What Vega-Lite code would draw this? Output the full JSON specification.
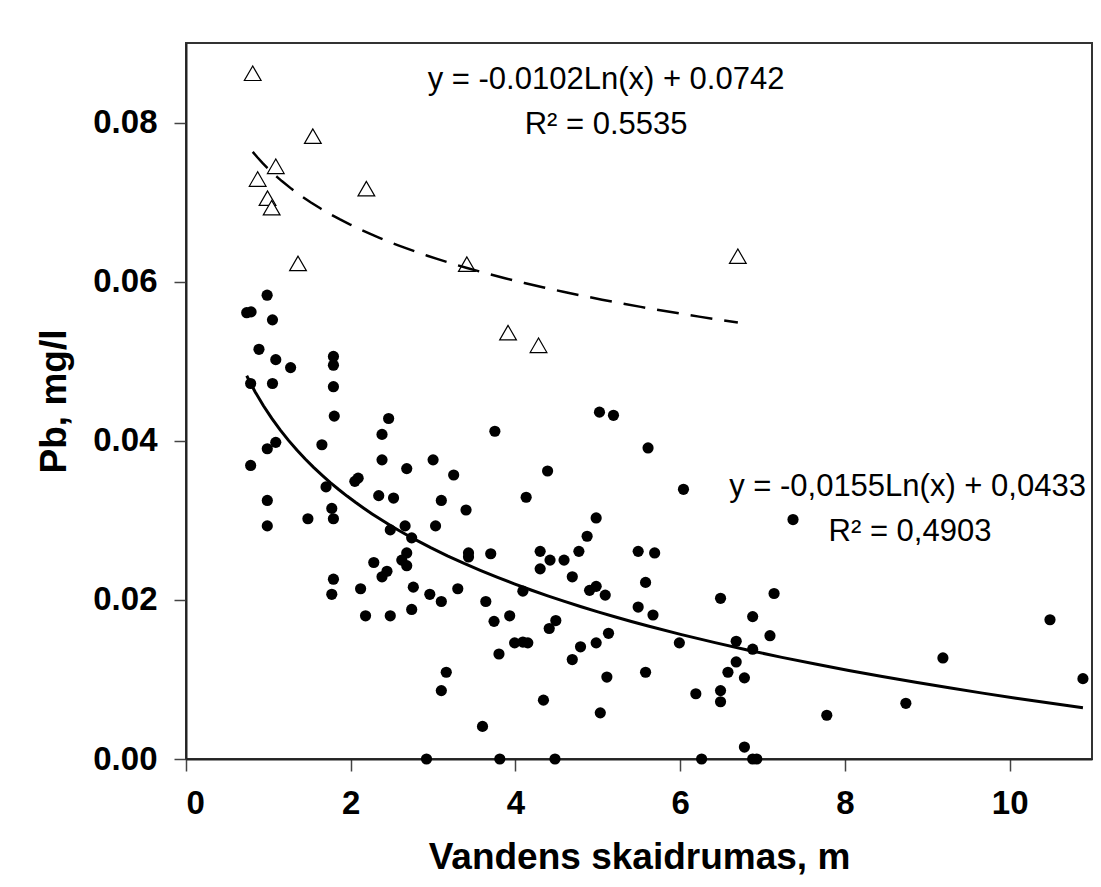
{
  "$schema": "https://vega.github.io/schema/vega-lite/v6.json",
  "autosize": "none",
  "width": 906,
  "height": 716,
  "padding": {"left": 186, "top": 43, "right": 9, "bottom": 128},
  "background": "white",
  "config": {
    "font": "Liberation Sans",
    "view": {"stroke": "#333333", "strokeWidth": 2},
    "axis": {
      "grid": false,
      "labelFont": "Liberation Sans",
      "labelFontWeight": "bold",
      "labelFontSize": 33,
      "labelColor": "black",
      "titleFont": "Liberation Sans",
      "titleFontWeight": "bold",
      "titleFontSize": 37,
      "titleColor": "black",
      "domainColor": "#222222",
      "domainWidth": 2,
      "tickColor": "#444444",
      "tickWidth": 1.5,
      "tickSize": 12
    }
  },
  "datasets": {
    "obs": [
      {"x": 0.81, "y": 0.0862, "set": "upper"},
      {"x": 1.54, "y": 0.0783, "set": "upper"},
      {"x": 1.09, "y": 0.0745, "set": "upper"},
      {"x": 0.87, "y": 0.0729, "set": "upper"},
      {"x": 0.99, "y": 0.0705, "set": "upper"},
      {"x": 1.04, "y": 0.0693, "set": "upper"},
      {"x": 2.19, "y": 0.0717, "set": "upper"},
      {"x": 1.36, "y": 0.0623, "set": "upper"},
      {"x": 3.41, "y": 0.0622, "set": "upper"},
      {"x": 3.91, "y": 0.0536, "set": "upper"},
      {"x": 4.28, "y": 0.0520, "set": "upper"},
      {"x": 6.70, "y": 0.0632, "set": "upper"},
      {"x": 0.985, "y": 0.0583, "set": "lower"},
      {"x": 0.737, "y": 0.0561, "set": "lower"},
      {"x": 0.79, "y": 0.0562, "set": "lower"},
      {"x": 1.05, "y": 0.0552, "set": "lower"},
      {"x": 0.886, "y": 0.0515, "set": "lower"},
      {"x": 1.09, "y": 0.0502, "set": "lower"},
      {"x": 1.27, "y": 0.0492, "set": "lower"},
      {"x": 1.79, "y": 0.0506, "set": "lower"},
      {"x": 1.79, "y": 0.0495, "set": "lower"},
      {"x": 1.79, "y": 0.0468, "set": "lower"},
      {"x": 0.785, "y": 0.0472, "set": "lower"},
      {"x": 1.05, "y": 0.0472, "set": "lower"},
      {"x": 1.80, "y": 0.0431, "set": "lower"},
      {"x": 2.46, "y": 0.0428, "set": "lower"},
      {"x": 2.38, "y": 0.0408, "set": "lower"},
      {"x": 1.09, "y": 0.0398, "set": "lower"},
      {"x": 0.987, "y": 0.0390, "set": "lower"},
      {"x": 1.65, "y": 0.0395, "set": "lower"},
      {"x": 0.785, "y": 0.0369, "set": "lower"},
      {"x": 2.38, "y": 0.0376, "set": "lower"},
      {"x": 2.68, "y": 0.0365, "set": "lower"},
      {"x": 3.00, "y": 0.0376, "set": "lower"},
      {"x": 3.25, "y": 0.0357, "set": "lower"},
      {"x": 2.05, "y": 0.0349, "set": "lower"},
      {"x": 2.09, "y": 0.0353, "set": "lower"},
      {"x": 1.70, "y": 0.0342, "set": "lower"},
      {"x": 2.34, "y": 0.0331, "set": "lower"},
      {"x": 2.52, "y": 0.0328, "set": "lower"},
      {"x": 3.10, "y": 0.0325, "set": "lower"},
      {"x": 3.40, "y": 0.0313, "set": "lower"},
      {"x": 0.987, "y": 0.0325, "set": "lower"},
      {"x": 1.48, "y": 0.0302, "set": "lower"},
      {"x": 1.77, "y": 0.0315, "set": "lower"},
      {"x": 1.79, "y": 0.0302, "set": "lower"},
      {"x": 0.987, "y": 0.0293, "set": "lower"},
      {"x": 2.48, "y": 0.0288, "set": "lower"},
      {"x": 2.66, "y": 0.0293, "set": "lower"},
      {"x": 3.03, "y": 0.0293, "set": "lower"},
      {"x": 2.74, "y": 0.0278, "set": "lower"},
      {"x": 2.68, "y": 0.0259, "set": "lower"},
      {"x": 2.62, "y": 0.0250, "set": "lower"},
      {"x": 2.68, "y": 0.0243, "set": "lower"},
      {"x": 2.28, "y": 0.0247, "set": "lower"},
      {"x": 2.44, "y": 0.0236, "set": "lower"},
      {"x": 2.38, "y": 0.0229, "set": "lower"},
      {"x": 3.43, "y": 0.0259, "set": "lower"},
      {"x": 3.43, "y": 0.0254, "set": "lower"},
      {"x": 3.70, "y": 0.0258, "set": "lower"},
      {"x": 4.09, "y": 0.0211, "set": "lower"},
      {"x": 1.79, "y": 0.0226, "set": "lower"},
      {"x": 1.77, "y": 0.0207, "set": "lower"},
      {"x": 2.12, "y": 0.0214, "set": "lower"},
      {"x": 2.76, "y": 0.0216, "set": "lower"},
      {"x": 2.96, "y": 0.0207, "set": "lower"},
      {"x": 3.10, "y": 0.0198, "set": "lower"},
      {"x": 3.30, "y": 0.0214, "set": "lower"},
      {"x": 3.64, "y": 0.0198, "set": "lower"},
      {"x": 2.18, "y": 0.0180, "set": "lower"},
      {"x": 2.48, "y": 0.0180, "set": "lower"},
      {"x": 2.74, "y": 0.0188, "set": "lower"},
      {"x": 3.74, "y": 0.0173, "set": "lower"},
      {"x": 3.93, "y": 0.0180, "set": "lower"},
      {"x": 3.99, "y": 0.0146, "set": "lower"},
      {"x": 4.09, "y": 0.0147, "set": "lower"},
      {"x": 4.15, "y": 0.0146, "set": "lower"},
      {"x": 3.80, "y": 0.0132, "set": "lower"},
      {"x": 3.16, "y": 0.0109, "set": "lower"},
      {"x": 3.10, "y": 0.0086, "set": "lower"},
      {"x": 3.60, "y": 0.0041, "set": "lower"},
      {"x": 2.92, "y": 0.0, "set": "lower"},
      {"x": 3.81, "y": 0.0, "set": "lower"},
      {"x": 5.02, "y": 0.0436, "set": "lower"},
      {"x": 5.19, "y": 0.0432, "set": "lower"},
      {"x": 3.75, "y": 0.0412, "set": "lower"},
      {"x": 5.61, "y": 0.0391, "set": "lower"},
      {"x": 4.39, "y": 0.0362, "set": "lower"},
      {"x": 6.04, "y": 0.0339, "set": "lower"},
      {"x": 4.13, "y": 0.0329, "set": "lower"},
      {"x": 4.98, "y": 0.0303, "set": "lower"},
      {"x": 4.87, "y": 0.0280, "set": "lower"},
      {"x": 4.77, "y": 0.0261, "set": "lower"},
      {"x": 4.30, "y": 0.0261, "set": "lower"},
      {"x": 4.42, "y": 0.0250, "set": "lower"},
      {"x": 4.59, "y": 0.0250, "set": "lower"},
      {"x": 4.30, "y": 0.0239, "set": "lower"},
      {"x": 5.49, "y": 0.0261, "set": "lower"},
      {"x": 5.69, "y": 0.0259, "set": "lower"},
      {"x": 5.58, "y": 0.0222, "set": "lower"},
      {"x": 4.69, "y": 0.0229, "set": "lower"},
      {"x": 4.90, "y": 0.0212, "set": "lower"},
      {"x": 4.98, "y": 0.0217, "set": "lower"},
      {"x": 5.09, "y": 0.0206, "set": "lower"},
      {"x": 4.49, "y": 0.0174, "set": "lower"},
      {"x": 4.41, "y": 0.0164, "set": "lower"},
      {"x": 5.49, "y": 0.0191, "set": "lower"},
      {"x": 5.67, "y": 0.0181, "set": "lower"},
      {"x": 5.13, "y": 0.0158, "set": "lower"},
      {"x": 6.49, "y": 0.0202, "set": "lower"},
      {"x": 7.14, "y": 0.0208, "set": "lower"},
      {"x": 6.88, "y": 0.0179, "set": "lower"},
      {"x": 7.37, "y": 0.0301, "set": "lower"},
      {"x": 4.79, "y": 0.0141, "set": "lower"},
      {"x": 4.98, "y": 0.0146, "set": "lower"},
      {"x": 4.69, "y": 0.0125, "set": "lower"},
      {"x": 5.11, "y": 0.0103, "set": "lower"},
      {"x": 5.58, "y": 0.0109, "set": "lower"},
      {"x": 5.99, "y": 0.0146, "set": "lower"},
      {"x": 4.34, "y": 0.0074, "set": "lower"},
      {"x": 5.03, "y": 0.0058, "set": "lower"},
      {"x": 4.48, "y": 0.0, "set": "lower"},
      {"x": 6.26, "y": 0.0, "set": "lower"},
      {"x": 6.78, "y": 0.0015, "set": "lower"},
      {"x": 6.88, "y": 0.0, "set": "lower"},
      {"x": 6.93, "y": 0.0, "set": "lower"},
      {"x": 7.09, "y": 0.0155, "set": "lower"},
      {"x": 6.68, "y": 0.0148, "set": "lower"},
      {"x": 6.88, "y": 0.0138, "set": "lower"},
      {"x": 6.68, "y": 0.0122, "set": "lower"},
      {"x": 6.58, "y": 0.0109, "set": "lower"},
      {"x": 6.78, "y": 0.0102, "set": "lower"},
      {"x": 6.19, "y": 0.0082, "set": "lower"},
      {"x": 6.49, "y": 0.0086, "set": "lower"},
      {"x": 6.49, "y": 0.0072, "set": "lower"},
      {"x": 7.78, "y": 0.0055, "set": "lower"},
      {"x": 8.74, "y": 0.0070, "set": "lower"},
      {"x": 9.19, "y": 0.0127, "set": "lower"},
      {"x": 10.49, "y": 0.0175, "set": "lower"},
      {"x": 10.89, "y": 0.0101, "set": "lower"}
    ],
    "note": [{"id": 1}]
  },
  "layer": [
    {
      "data": {"name": "obs"},
      "transform": [{"filter": "datum.set === 'lower'"}],
      "mark": {"type": "point", "shape": "circle", "filled": true, "color": "black", "size": 125, "opacity": 1},
      "encoding": {
        "x": {
          "field": "x",
          "type": "quantitative",
          "scale": {"domain": [0, 11], "nice": false, "zero": false},
          "axis": {"values": [0, 2, 4, 6, 8, 10], "format": "d", "title": "Vandens skaidrumas, m", "labelPadding": 16, "titlePadding": 19}
        },
        "y": {
          "field": "y",
          "type": "quantitative",
          "scale": {"domain": [0, 0.09], "nice": false},
          "axis": {"values": [0, 0.02, 0.04, 0.06, 0.08], "format": ".2f", "title": "Pb, mg/l", "labelPadding": 17, "titlePadding": 19}
        }
      }
    },
    {
      "data": {"name": "obs"},
      "transform": [{"filter": "datum.set === 'upper'"}],
      "mark": {"type": "point", "shape": "triangle-up", "filled": true, "fill": "white", "stroke": "black", "strokeWidth": 1.2, "size": 280, "opacity": 1},
      "encoding": {"x": {"field": "x", "type": "quantitative"}, "y": {"field": "y", "type": "quantitative"}}
    },
    {
      "data": {"name": "obs"},
      "transform": [
        {"filter": "datum.set === 'lower'"},
        {"regression": "y", "on": "x", "method": "log"}
      ],
      "mark": {"type": "line", "color": "black", "strokeWidth": 3},
      "encoding": {"x": {"field": "x", "type": "quantitative"}, "y": {"field": "y", "type": "quantitative"}}
    },
    {
      "data": {"name": "obs"},
      "transform": [
        {"filter": "datum.set === 'upper'"},
        {"regression": "y", "on": "x", "method": "log"}
      ],
      "mark": {"type": "line", "color": "black", "strokeWidth": 2.5, "strokeDash": [22, 12]},
      "encoding": {"x": {"field": "x", "type": "quantitative"}, "y": {"field": "y", "type": "quantitative"}}
    },
    {
      "data": {"name": "note"},
      "mark": {"type": "text", "text": "y = -0.0102Ln(x) + 0.0742", "font": "Liberation Sans", "fontSize": 31, "align": "center", "baseline": "alphabetic", "color": "black"},
      "encoding": {"x": {"datum": 5.1, "type": "quantitative"}, "y": {"datum": 0.0842, "type": "quantitative"}}
    },
    {
      "data": {"name": "note"},
      "mark": {"type": "text", "text": "R² = 0.5535", "font": "Liberation Sans", "fontSize": 31, "align": "center", "baseline": "alphabetic", "color": "black"},
      "encoding": {"x": {"datum": 5.1, "type": "quantitative"}, "y": {"datum": 0.0785, "type": "quantitative"}}
    },
    {
      "data": {"name": "note"},
      "mark": {"type": "text", "text": "y = -0,0155Ln(x) + 0,0433", "font": "Liberation Sans", "fontSize": 31, "align": "center", "baseline": "alphabetic", "color": "black"},
      "encoding": {"x": {"datum": 8.76, "type": "quantitative"}, "y": {"datum": 0.0330, "type": "quantitative"}}
    },
    {
      "data": {"name": "note"},
      "mark": {"type": "text", "text": "R² = 0,4903", "font": "Liberation Sans", "fontSize": 31, "align": "center", "baseline": "alphabetic", "color": "black"},
      "encoding": {"x": {"datum": 8.79, "type": "quantitative"}, "y": {"datum": 0.02735, "type": "quantitative"}}
    }
  ]
}
